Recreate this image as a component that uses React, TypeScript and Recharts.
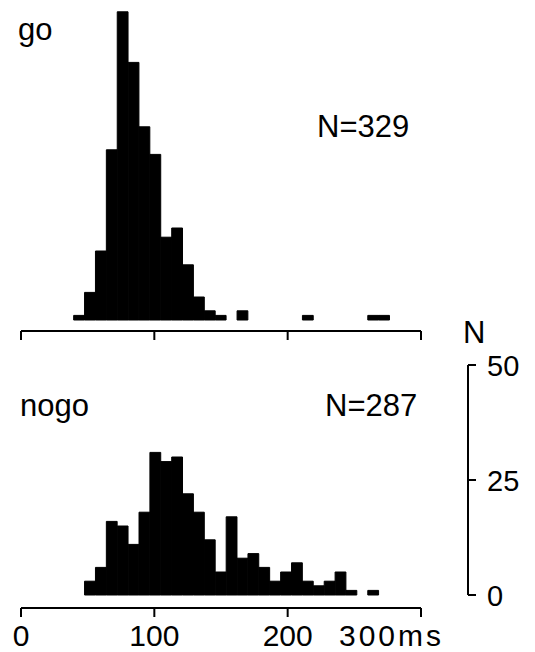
import { BarChart, Bar, XAxis, YAxis, ReferenceLine } from 'recharts';

// histogram bins (ms)
const BIN_START = 39.5;
const BIN_WIDTH = 8.17;

const goCounts = [1, 6, 15, 37, 67, 56, 42, 36, 18, 20, 12, 5, 2, 1, 0, 2, 0, 0, 0, 0, 0, 1, 0, 0, 0, 0, 0, 1, 1];
const nogoCounts = [0, 3, 6, 16, 15, 11, 18, 31, 29, 30, 22, 18, 12, 5, 17, 8, 9, 6, 3, 5, 7, 3, 2, 3, 5, 1, 0, 1];

const xTicks = [0, 100, 200, 300];
const nTicks = [0, 25, 50];

const goTotal = 'N=329';
const nogoTotal = 'N=287';

const PX_PER_N = 4.6;
const X_MAX = 335.25; // plot runs on to the N axis
const FONT = '"Liberation Sans", Arial, sans-serif';

const toBins = (counts: number[]) =>
    counts.map((n, i) => ({ t: BIN_START + BIN_WIDTH * (i + 0.5), n }));

const goData = toBins(goCounts);
const nogoData = toBins(nogoCounts);

const goYMin = -11 / PX_PER_N;
const nogoYMin = -13 / PX_PER_N;

const MsTick = (props: any) => {
    const { x, y, payload } = props;
    if (payload.value === 300) {
        return (
            <text x={x - 82} y={y + 27} textAnchor="start" letterSpacing={3}
                fontFamily={FONT} fontSize={30} fill="#000">
                300ms
            </text>
        );
    }
    return (
        <text x={x} y={y + 27} textAnchor="middle" fontFamily={FONT} fontSize={30} fill="#000">
            {payload.value}
        </text>
    );
};

const NTick = (props: any) => {
    const { x, y, payload } = props;
    return (
        <text x={x + 9} y={y + 11} textAnchor="start" fontFamily={FONT} fontSize={29} fill="#000">
            {payload.value}
        </text>
    );
};

export default function App() {
    return (
        <div style={{ position: 'absolute', left: 0, top: 0, width: 535, height: 652, background: '#fff' }}>
            <div style={{ position: 'absolute', left: 0, top: 0 }}>
                <BarChart width={535} height={361} data={goData} margin={{ top: 0, right: 67, bottom: 0, left: 21 }}>
                    <XAxis type="number" dataKey="t" domain={[0, X_MAX]} ticks={xTicks} interval={0}
                        allowDataOverflow axisLine={false} height={30} tickSize={9}
                        tickLine={{ stroke: '#000', strokeWidth: 2 }} tick={() => <g />} />
                    <YAxis hide type="number" domain={[goYMin, 320 / PX_PER_N]} allowDataOverflow />
                    <Bar dataKey="n" fill="#000" stroke="#000" strokeWidth={1} barSize={10.8} isAnimationActive={false} />
                    <ReferenceLine segment={[{ x: 0, y: goYMin }, { x: 300, y: goYMin }]}
                        stroke="#000" strokeWidth={2} ifOverflow="visible" />
                </BarChart>
            </div>
            <div style={{ position: 'absolute', left: 0, top: 330 }}>
                <BarChart width={535} height={322} data={nogoData} margin={{ top: 35, right: 0, bottom: 0, left: 21 }}>
                    <XAxis type="number" dataKey="t" domain={[0, X_MAX]} ticks={xTicks} interval={0}
                        allowDataOverflow axisLine={false} height={44} tickSize={9}
                        tickLine={{ stroke: '#000', strokeWidth: 2 }} tick={MsTick} />
                    <YAxis orientation="right" type="number" width={67} domain={[nogoYMin, 50]} ticks={nTicks}
                        interval={0} allowDataOverflow axisLine={false} tickSize={8}
                        tickLine={{ stroke: '#000', strokeWidth: 2 }} tick={NTick} />
                    <Bar dataKey="n" fill="#000" stroke="#000" strokeWidth={1} barSize={10.8} isAnimationActive={false} />
                    <ReferenceLine segment={[{ x: 0, y: nogoYMin }, { x: 300, y: nogoYMin }]}
                        stroke="#000" strokeWidth={2} ifOverflow="visible" />
                    <ReferenceLine segment={[{ x: X_MAX, y: 0 }, { x: X_MAX, y: 50 }]}
                        stroke="#000" strokeWidth={2} ifOverflow="visible" />
                </BarChart>
            </div>
            <svg width={535} height={652} style={{ position: 'absolute', left: 0, top: 0, pointerEvents: 'none' }}>
                <g fontFamily={FONT} fontSize={31} fill="#000">
                    <text x={18} y={40}>go</text>
                    <text x={317} y={137}>{goTotal}</text>
                    <text x={20} y={416}>nogo</text>
                    <text x={325} y={416}>{nogoTotal}</text>
                    <text x={463} y={343}>N</text>
                </g>
            </svg>
        </div>
    );
}
